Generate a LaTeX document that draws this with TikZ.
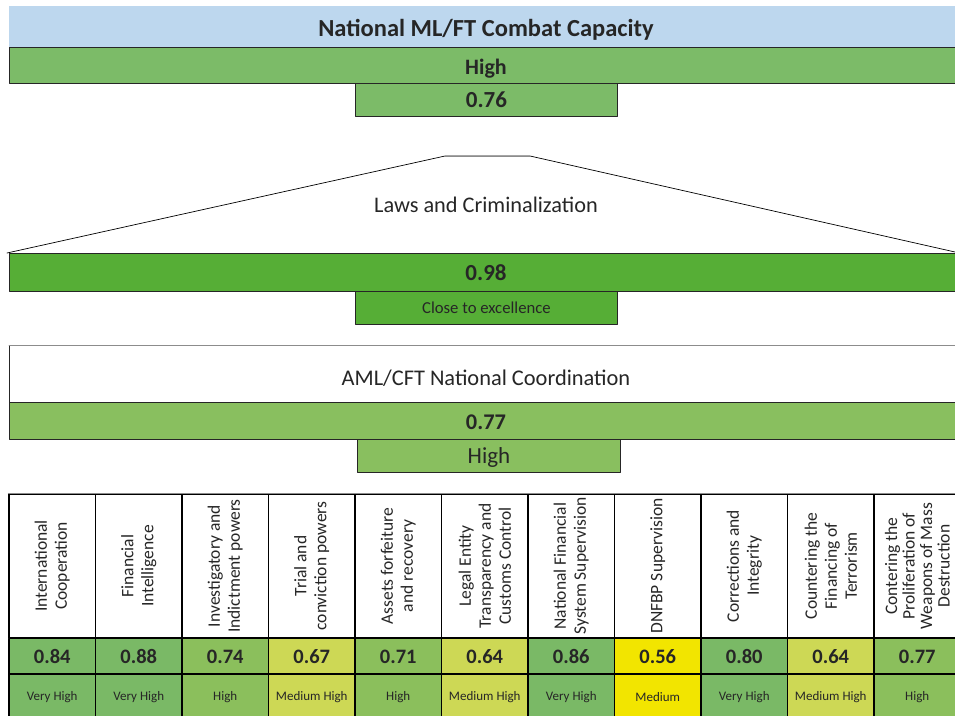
\documentclass[tikz,border=0pt]{standalone}
\usepackage{fontspec}
\setmainfont{Carlito}
\definecolor{titleblue}{HTML}{BDD7EE}
\definecolor{greenhigh}{HTML}{7CBB68}
\definecolor{greenexc}{HTML}{56AE36}
\definecolor{greencoord}{HTML}{89BF5F}
\definecolor{vhigh}{HTML}{7AB966}
\definecolor{high}{HTML}{8BBF5C}
\definecolor{mhigh}{HTML}{CDD855}
\definecolor{med}{HTML}{F2E500}
\definecolor{ink}{HTML}{262626}
\definecolor{edge}{HTML}{8C8C8C}
\tikzset{
  band/.style={draw=ink,line width=0.9pt,anchor=north west,inner sep=0pt,minimum width=960pt,text=ink},
  subbox/.style={draw=ink,line width=0.9pt,anchor=north west,inner sep=0pt,minimum width=262pt,minimum height=33pt,text=ink},
  headcell/.style={draw=black,line width=1.1pt,rotate=90,align=center,inner sep=0pt,minimum width=144pt,minimum height=86.5pt,font=\fontsize{17.5}{20}\selectfont,text=ink},
  valcell/.style={draw=black,line width=1.1pt,inner sep=0pt,minimum width=86.5pt,minimum height=36pt,font=\fontsize{20.5}{22}\selectfont\bfseries,text=ink},
  ratcell/.style={draw=black,line width=1.1pt,inner sep=0pt,minimum width=86.5pt,minimum height=46pt,font=\fontsize{13}{15}\selectfont,text=ink}
}
\begin{document}
\begin{tikzpicture}[x=1pt,y=-1pt,line join=round,line cap=round]
  \useasboundingbox (0,0) rectangle (955,715);
  \clip (0,0) rectangle (955,715);
  % overall capacity
  \node[band,draw=none,fill=titleblue,minimum height=41pt] (title) at (9,6) {};
  \node[text=ink,font=\fontsize{24.5}{28}\selectfont\bfseries] (titletext) at (486,29.5) {National ML/FT Combat Capacity};
  \node[band,fill=greenhigh,minimum height=36pt] (natlevel) at (9,47) {};
  \node[text=ink,font=\fontsize{22}{24}\selectfont\bfseries] (natleveltext) at (486,69) {High};
  \node[subbox,fill=greenhigh,font=\fontsize{23}{24}\selectfont\bfseries] (natscore) at (355,83) {0.76};
  % laws and criminalization
  \coordinate (lawsL) at (7,253);
  \coordinate (lawsR) at (955,252);
  \draw[line width=0.7pt,fill=white] (lawsL) -- (445,156) -- (530,156) -- (lawsR);
  \draw[edge,line width=0.7pt] (445,156) -- (530,156);
  \node[text=ink,font=\fontsize{22.3}{26}\selectfont] (laws) at (486,205) {Laws and Criminalization};
  \node[band,fill=greenexc,minimum height=38pt] (lawsscore) at (9,253) {};
  \node[text=ink,font=\fontsize{23}{26}\selectfont\bfseries] (lawsscoretext) at (486,273) {0.98};
  \node[subbox,fill=greenexc,font=\fontsize{16.7}{19}\selectfont] (lawslevel) at (355,291) {Close to excellence};
  % national coordination
  \node[band,fill=white,minimum height=57pt] (coord) at (9,345) {};
  \draw[edge,line width=0.9pt] (coord.north west) -- (coord.north east);
  \node[text=ink,font=\fontsize{22.4}{26}\selectfont] (coordtext) at (486,378) {AML/CFT National Coordination};
  \node[band,fill=greencoord,minimum height=37pt] (coordscore) at (9,402) {};
  \node[text=ink,font=\fontsize{22.4}{26}\selectfont\bfseries] (coordscoretext) at (486,422) {0.77};
  \node[subbox,fill=greencoord,minimum width=263pt,text height=19.5pt,text depth=4pt,font=\fontsize{23}{26}\selectfont] (coordlevel) at (357,439) {High};
  % components
  \foreach \lab/\val/\rat/\col [count=\i] in {
      {International\\Cooperation}/0.84/Very High/vhigh,
      {Financial\\Intelligence}/0.88/Very High/vhigh,
      {Investigatory and\\Indictment powers}/0.74/High/high,
      {Trial and\\conviction powers}/0.67/Medium High/mhigh,
      {Assets forfeiture\\and recovery}/0.71/High/high,
      {Legal Entity\\Transparency and\\Customs Control}/0.64/Medium High/mhigh,
      {National Financial\\System Supervision}/0.86/Very High/vhigh,
      {DNFBP Supervision}/0.56/Medium/med,
      {Corrections and\\Integrity}/0.80/Very High/vhigh,
      {Countering the\\Financing of\\Terrorism}/0.64/Medium High/mhigh,
      {Contering the\\[-2.5pt]Proliferation of\\[-2.5pt]Weapons of Mass\\[-2.5pt]Destruction}/0.77/High/high}{
    \pgfmathsetmacro\cx{9+86.5*(\i-1)+43.25}
    \node[headcell,fill=white] (hd\i) at (\cx,566) {\lab};
    \node[valcell,fill=\col] (val\i) at (\cx,656.5) {\val};
    \node[ratcell,fill=\col] (rat\i) at (\cx,697) {\rat};
  }
  \draw[edge,line width=1.1pt] (hd1.north east) -- (hd11.south east);
\end{tikzpicture}
\end{document}
